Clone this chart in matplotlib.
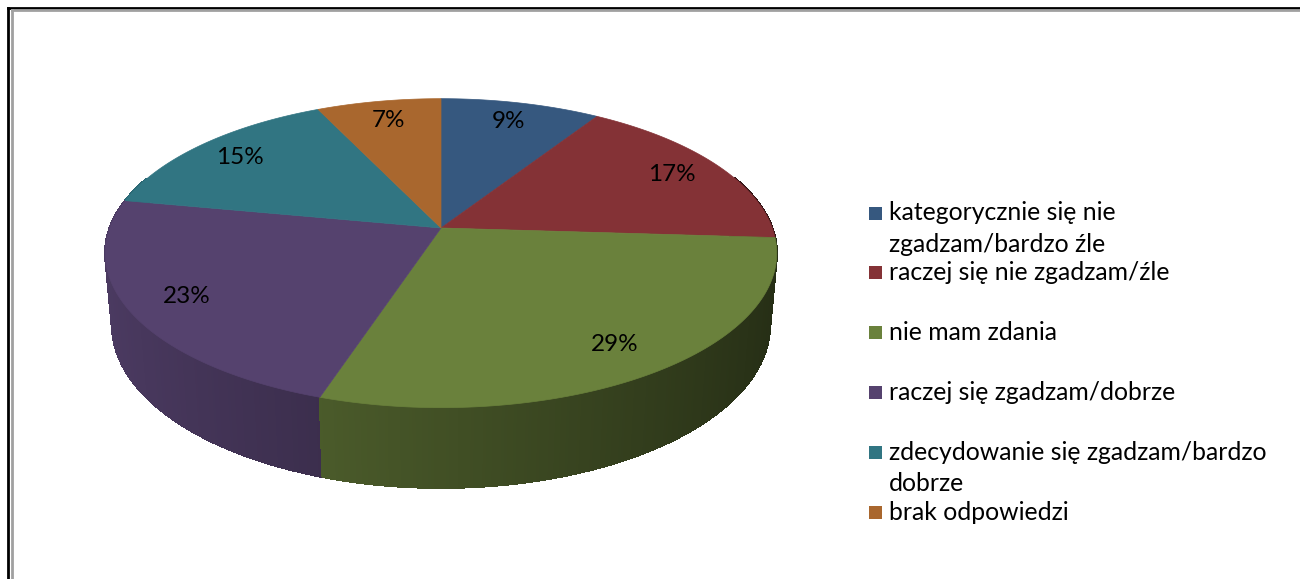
import numpy as np
import matplotlib.pyplot as plt
from matplotlib.patches import Polygon, Rectangle
from matplotlib.lines import Line2D

labels = ["kategorycznie się nie\nzgadzam/bardzo źle",
          "raczej się nie zgadzam/źle",
          "nie mam zdania",
          "raczej się zgadzam/dobrze",
          "zdecydowanie się zgadzam/bardzo\ndobrze",
          "brak odpowiedzi"]
values = [9, 17, 29, 23, 15, 7]
pct_text = ["9%", "17%", "29%", "23%", "15%", "7%"]
colors = ["#36587f", "#843236", "#6a813c", "#55426e", "#317582", "#a9672e"]

plt.rcParams['font.family'] = ['Lato', 'DejaVu Sans']

# perspective view of the pie (pixel space)
cx, cy = 441, 228
tilt = np.radians(27)
dist = 5.47
focal = 1812
thick = 0.245


def project(ang, r=1.0, z=0.0):
    X = r * np.sin(ang)
    Y = r * np.cos(ang)
    d = dist + Y * np.cos(tilt) - z * np.sin(tilt)
    up = z * np.cos(tilt) + Y * np.sin(tilt)
    return cx + focal * X / d, cy - focal * up / d


def shade(col, f):
    rgb = np.array(plt.matplotlib.colors.to_rgb(col))
    return tuple(np.clip(rgb * f, 0, 1))


fig = plt.figure(figsize=(13, 5.79), dpi=100)
ax = fig.add_axes([0, 0, 1, 1])
ax.set_xlim(0, 1300)
ax.set_ylim(579, 0)
ax.axis("off")

frac = np.array(values) / sum(values)
bounds = np.concatenate([[0], np.cumsum(frac)]) * 2 * np.pi

# side walls, back to front
quads = []
for i in range(len(values)):
    a = np.linspace(bounds[i], bounds[i + 1], max(3, int(values[i] * 8)))
    for a0, a1 in zip(a[:-1], a[1:]):
        am = (a0 + a1) / 2
        if np.cos(am) > 0.35:
            continue
        x0t, y0t = project(a0)
        x1t, y1t = project(a1)
        x1b, y1b = project(a1, z=-thick)
        x0b, y0b = project(a0, z=-thick)
        f = 0.62 - 0.27 * np.sin(am)
        quads.append((np.cos(am), [(x0t, y0t), (x1t, y1t), (x1b, y1b), (x0b, y0b)],
                      shade(colors[i], f)))
quads.sort(key=lambda q: -q[0])
for _, pts, c in quads:
    ax.add_patch(Polygon(pts, closed=True, facecolor=c, edgecolor=c, lw=1.0,
                         antialiased=False, zorder=1))

# top face
for i in range(len(values)):
    a = np.linspace(bounds[i], bounds[i + 1], 120)
    xs, ys = project(a)
    pts = [(cx, cy)] + list(zip(xs, ys))
    ax.add_patch(Polygon(pts, closed=True, facecolor=colors[i], edgecolor=colors[i],
                         lw=0.5, zorder=2))

# percentage labels
for i in range(len(values)):
    am = (bounds[i] + bounds[i + 1]) / 2
    lx, ly = project(am, r=0.83)
    ax.text(lx, ly, pct_text[i], ha="center", va="center", fontsize=17.5, color="black", zorder=3)

# legend
for i, lab in enumerate(labels):
    ly = 213 + i * 59.8
    ax.add_patch(Rectangle((869, ly - 6.5), 13, 13, facecolor=colors[i], edgecolor="none"))
    for k, line in enumerate(lab.split("\n")):
        ax.text(889, ly + k * 31, line, ha="left", va="center", fontsize=17.8, color="black")

# frame
ax.add_line(Line2D([8, 8], [7.5, 579], color="black", lw=2))
ax.add_line(Line2D([8, 1300], [7.5, 7.5], color="black", lw=2))
ax.add_line(Line2D([11.5, 11.5], [10, 579], color="#a0a0a0", lw=2))
ax.add_line(Line2D([11.5, 1300], [10, 10], color="#a0a0a0", lw=2))

fig.savefig("out.png", dpi=100)
